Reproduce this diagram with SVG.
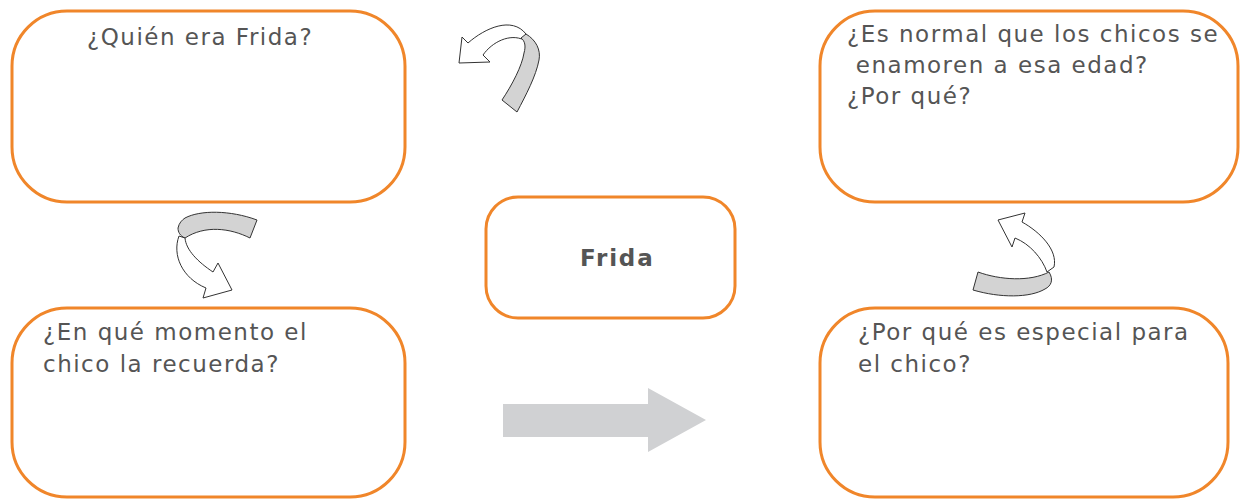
<svg xmlns="http://www.w3.org/2000/svg" width="1243" height="500" viewBox="0 0 1243 500">
<style>
.box{fill:#fff;stroke:#F0862A;stroke-width:3}
.t{font-family:"DejaVu Sans",Verdana,sans-serif;font-size:23px;letter-spacing:1.5px;fill:#555}
.b{font-weight:bold;letter-spacing:1.8px}
.w{fill:#fff;stroke:#333;stroke-width:1;stroke-linejoin:miter}
.g{fill:#d3d3d3;stroke:#333;stroke-width:1}
</style>
<rect width="1243" height="500" fill="#fff"/>
<g id="connectors">
<path id="big-arrow" d="M503,404 L648,404 L648,388 L706,420 L648,452 L648,437 L503,437 Z" fill="#d0d1d3"/>
<g id="curl1">
<path class="w" d="M468,43 C485,28 512,16 526,34 L524,40 C510,33 492,42 483,55 L490,62 L459,63 L462,37 Z"/>
<path class="g" d="M526,34 C536,40 541,50 539,60 C536,76 526,95 517,112 L502,100 C512,85 522,66 524,53 C526,46 525,41 521,38 Z"/>
</g>
<g id="curl2">
<path class="g" d="M185,218 C200,210 230,210 257,220 L250,238 C230,228 205,225 185,238 C180,236 178,232 178,228 C179,223 182,220 185,218 Z"/>
<path class="w" d="M179,236 C172,255 182,278 206,288 L203,298 L232,290 L218,263 L213,272 C198,262 186,250 185,238 Z"/>
</g>
<g id="curl3">
<path class="w" d="M1022,222 C1040,232 1058,250 1054,267 L1047,272 C1042,258 1030,244 1015,238 L1012,247 L998,220 L1025,213 Z"/>
<path class="g" d="M978,272 C1000,280 1030,282 1049,272 C1054,280 1051,286 1045,289 C1030,298 1000,298 973,290 Z"/>
</g>
</g>
<g id="node-quien">
<rect class="box" x="12" y="11" width="393" height="191" rx="55"/>
<text class="t" x="87" y="45">¿Quién era Frida?</text>
</g>
<g id="node-frida">
<rect class="box" x="486" y="197" width="249" height="121" rx="32"/>
<text class="t b" x="580" y="266">Frida</text>
</g>
<g id="node-normal">
<rect class="box" x="820" y="11" width="418" height="191" rx="55"/>
<text class="t" x="847" y="42">¿Es normal que los chicos se</text>
<text class="t" x="847" y="73" xml:space="preserve"> enamoren a esa edad?</text>
<text class="t" x="847" y="104">¿Por qué?</text>
</g>
<g id="node-momento">
<rect class="box" x="12" y="308" width="393" height="189" rx="55"/>
<text class="t" x="43" y="340">¿En qué momento el</text>
<text class="t" x="43" y="372">chico la recuerda?</text>
</g>
<g id="node-especial">
<rect class="box" x="820" y="308" width="408" height="189" rx="55"/>
<text class="t" x="858" y="340">¿Por qué es especial para</text>
<text class="t" x="858" y="372">el chico?</text>
</g>
</svg>
